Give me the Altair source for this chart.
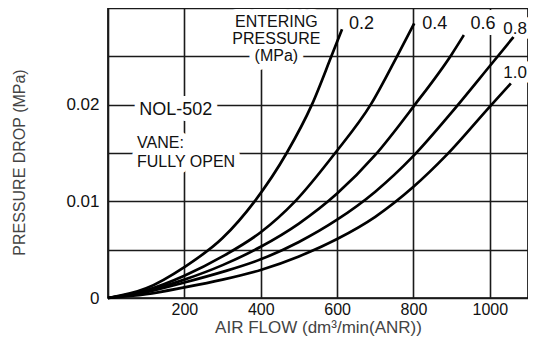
import altair as alt
import pandas as pd

# ---- data ----
pressures = ["0.2", "0.4", "0.6", "0.8", "1.0"]

flow_02 = [0, 100, 200, 300, 384, 468, 534, 585, 613]
drop_02 = [0, 0.0010, 0.0032, 0.0062, 0.0100, 0.0150, 0.0200, 0.0250, 0.0278]

flow_04 = [0, 100, 200, 300, 400, 490, 595, 688, 757, 802]
drop_04 = [0, 0.0008, 0.0023, 0.0043, 0.0068, 0.0100, 0.0150, 0.0200, 0.0250, 0.0284]

flow_06 = [0, 100, 200, 300, 400, 500, 600, 700, 800, 900, 932]
drop_06 = [0, 0.0007, 0.0019, 0.0034, 0.0053, 0.0077, 0.0108, 0.0148, 0.0198, 0.0252, 0.0272]

flow_08 = [0, 100, 200, 300, 400, 500, 600, 700, 800, 900, 1000, 1062]
drop_08 = [0, 0.0006, 0.0016, 0.0027, 0.0040, 0.0058, 0.0081, 0.0110, 0.0147, 0.0192, 0.0240, 0.0270]

flow_10 = [0, 100, 200, 300, 400, 500, 600, 700, 800, 887, 1000, 1055]
drop_10 = [0, 0.0004, 0.0011, 0.0019, 0.0029, 0.0043, 0.0061, 0.0084, 0.0115, 0.0148, 0.0198, 0.0222]

x_grid = [0, 100, 200, 300, 400, 500, 600, 700, 800, 900, 1000, 1100]
x_label_values = [200, 400, 600, 800, 1000]
y_grid = [0, 0.005, 0.01, 0.015, 0.02, 0.025, 0.03]
y_label_values = [0, 0.01, 0.02]
y_label_texts = ["0", "0.01", "0.02"]

# annotations (centered): text, x, y, size
center_texts = ["ENTERING", "PRESSURE", "(MPa)", "0.2", "0.4", "0.6", "0.8", "1.0"]
center_x = [441, 441, 441, 664, 856, 982, 1066, 1066]
center_y = [0.0286, 0.0268, 0.0250, 0.02830, 0.02830, 0.02830, 0.0278, 0.02330]
center_size = [16, 16, 16, 18, 18, 18, 17, 17]

# annotations (left aligned)
left_texts = ["NOL-502", "VANE:", "FULLY OPEN"]
left_x = [82, 76, 76]
left_y = [0.01945, 0.01603, 0.01407]
left_size = [18, 16, 16]

# ---- tables ----
rows = []
for p, fx, dy in zip(pressures,
                     [flow_02, flow_04, flow_06, flow_08, flow_10],
                     [drop_02, drop_04, drop_06, drop_08, drop_10]):
    for a, b in zip(fx, dy):
        rows.append({"pressure": p, "flow": a, "drop": b})
curves = pd.DataFrame(rows)

ann_c = pd.DataFrame({"label": center_texts, "flow": center_x, "drop": center_y, "size": center_size})
ann_l = pd.DataFrame({"label": left_texts, "flow": left_x, "drop": left_y, "size": left_size})

FONT = "Liberation Sans"

y_expr = " : ".join(
    [f"abs(datum.value - {v}) < 1e-9 ? '{t}'" for v, t in zip(y_label_values, y_label_texts)]
) + " : ''"
x_expr = "indexof(" + str(x_label_values) + ", datum.value) >= 0 ? format(datum.value, 'd') : ''"

x_enc = alt.X(
    "flow:Q",
    scale=alt.Scale(domain=[0, 1100], nice=False, zero=True),
    axis=alt.Axis(
        values=x_grid, labelExpr=x_expr, title="AIR FLOW (dm³/min(ANR))",
        ticks=False, domain=False, labelPadding=3, labelFontSize=16, labelFont=FONT,
        labelColor="#111", titleFont=FONT, titleFontSize=17, titleFontWeight="normal",
        titleColor="#444", titleY=21, titleBaseline="top",
        grid=True, gridColor="#1a1a1a", gridWidth=1.6, gridOpacity=1, labelFlush=False,
        labelOverlap=False,
    ),
)
y_enc = alt.Y(
    "drop:Q",
    scale=alt.Scale(domain=[0, 0.03], nice=False, zero=True),
    axis=alt.Axis(
        values=y_grid, labelExpr=y_expr, title="PRESSURE DROP (MPa)",
        ticks=False, domain=False, labelPadding=9, labelFontSize=17, labelFont=FONT,
        labelColor="#111", titleFont=FONT, titleFontSize=16, titleFontWeight="normal",
        titleColor="#444", titleX=-81, titleY=154, titleBaseline="bottom",
        grid=True, gridColor="#1a1a1a", gridWidth=1.6, gridOpacity=1, labelFlush=False,
        labelOverlap=False,
    ),
)

halo_c = alt.Chart(ann_c).mark_text(
    align="center", baseline="middle", font=FONT, fill="white", stroke="white",
    strokeWidth=12, strokeJoin="round"
).encode(x=x_enc, y=y_enc, text="label:N", size=alt.Size("size:Q", scale=None, legend=None))

halo_l = alt.Chart(ann_l).mark_text(
    align="left", baseline="middle", font=FONT, fill="white", stroke="white",
    strokeWidth=12, strokeJoin="round"
).encode(x="flow:Q", y="drop:Q", text="label:N", size=alt.Size("size:Q", scale=None, legend=None))

lines = alt.Chart(curves).mark_line(
    interpolate="monotone", color="black", strokeWidth=2.7
).encode(x="flow:Q", y="drop:Q", detail="pressure:N", order="flow:Q")

text_c = alt.Chart(ann_c).mark_text(
    align="center", baseline="middle", font=FONT, color="#111"
).encode(x="flow:Q", y="drop:Q", text="label:N", size=alt.Size("size:Q", scale=None, legend=None))

text_l = alt.Chart(ann_l).mark_text(
    align="left", baseline="middle", font=FONT, color="#111"
).encode(x="flow:Q", y="drop:Q", text="label:N", size=alt.Size("size:Q", scale=None, legend=None))

chart = alt.layer(halo_c, halo_l, lines, text_c, text_l).properties(
    width=420, height=290,
    autosize=alt.AutoSizeParams(type="none"),
    padding={"left": 100, "top": 0, "right": 0, "bottom": 38},
    background="white",
).configure_view(stroke="black", strokeWidth=1.6)

chart.save("out.html", embed_options={"renderer": "svg", "actions": False})
